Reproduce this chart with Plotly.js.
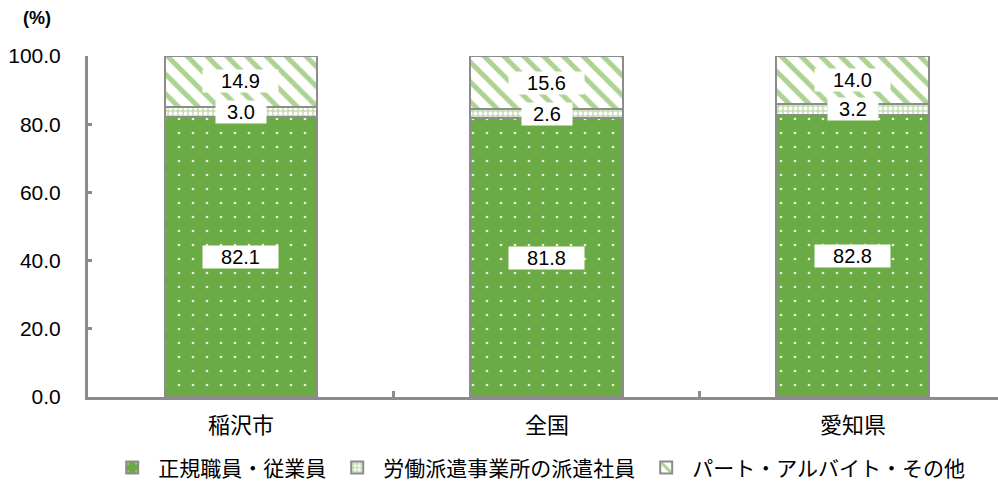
<!DOCTYPE html>
<html>
<head>
<meta charset="utf-8">
<script src="https://cdn.plot.ly/plotly-3.0.1.min.js"></script>
<style>html,body{margin:0;padding:0;background:#fff;}#chart{width:998px;height:483px;}</style>
</head>
<body>
<div id="chart"></div>
<script>
var categories = ["稲沢市", "全国", "愛知県"];
var seriesNames = ["正規職員・従業員", "労働派遣事業所の派遣社員", "パート・アルバイト・その他"];
var regular = [82.1, 81.8, 82.8];
var dispatched = [3.0, 2.6, 3.2];
var partTime = [14.9, 15.6, 14.0];
var yTickVals = [0, 20, 40, 60, 80, 100];
var yTickText = ["0.0", "20.0", "40.0", "60.0", "80.0", "100.0"];

var FONT = "'Liberation Sans', Arial, 'Noto Sans CJK JP', sans-serif";
var JFONT = "'Noto Sans CJK JP', sans-serif";
var GRAY = "#8c8c8c";

var seriesValues = [regular, dispatched, partTime];
var patterns = [
  {shape: ".", fgcolor: "#e8f3e0", bgcolor: "#6bab45", size: 14, solidity: 0.03, fillmode: "replace"},
  {shape: ".", fgcolor: "#ffffff", bgcolor: "#c4dfb1", size: 5, solidity: 0.45, fillmode: "replace"},
  {shape: "\\", fgcolor: "#acd391", bgcolor: "#ffffff", size: 14, solidity: 0.36, fillmode: "replace"}
];
var fills = ["#6bab45", "#c4dfb1", "#ffffff"];

var traces = seriesValues.map(function (vals, i) {
  return {
    type: "bar",
    name: seriesNames[i],
    x: categories,
    y: vals,
    marker: {color: fills[i], pattern: patterns[i], line: {color: GRAY, width: 2}},
    hoverinfo: "skip"
  };
});

var annotations = [];
categories.forEach(function (c, j) {
  var base = 0;
  seriesValues.forEach(function (vals) {
    var v = vals[j];
    annotations.push({
      x: c, y: base + v / 2, xref: "x", yref: "y",
      text: v.toFixed(1), showarrow: false,
      bgcolor: "#ffffff", borderpad: 0,
      width: v >= 10 ? 75 : 50, height: 22,
      font: {family: FONT, size: 20, color: "#000"}
    });
    base += v;
  });
});
annotations.push({
  xref: "paper", yref: "paper", x: -0.056, y: 1.112, xanchor: "center", yanchor: "middle",
  text: "<b>(%)</b>", showarrow: false,
  font: {family: FONT, size: 18, color: "#000"}
});

var layout = {
  width: 998, height: 483,
  margin: {l: 88, r: 0, t: 56, b: 86, autoexpand: false},
  paper_bgcolor: "#fff", plot_bgcolor: "#fff",
  barmode: "stack", bargap: 0.5,
  showlegend: true,
  legend: {
    orientation: "h", x: 0.02, xanchor: "left", y: -0.208, yanchor: "middle",
    font: {family: JFONT, size: 21, color: "#000"},
    traceorder: "normal", itemwidth: 42
  },
  xaxis: {
    type: "category", range: [-0.5, 2.474], automargin: false,
    showline: true, linecolor: GRAY, linewidth: 3,
    ticks: "inside", tickson: "boundaries", ticklen: 6, tickwidth: 3, tickcolor: GRAY,
    showgrid: false, zeroline: false, ticklabelstandoff: 7,
    tickfont: {family: JFONT, size: 22, color: "#000"}
  },
  yaxis: {
    range: [0, 100], tickvals: yTickVals, ticktext: yTickText, automargin: false,
    showline: true, linecolor: GRAY, linewidth: 3,
    ticks: "inside", ticklen: 4, tickwidth: 3, tickcolor: GRAY,
    showgrid: false, zeroline: false, ticklabelstandoff: 20,
    tickfont: {family: FONT, size: 21, color: "#000"}
  },
  annotations: annotations
};

Plotly.newPlot("chart", traces, layout, {staticPlot: true, displayModeBar: false});
</script>
</body>
</html>
